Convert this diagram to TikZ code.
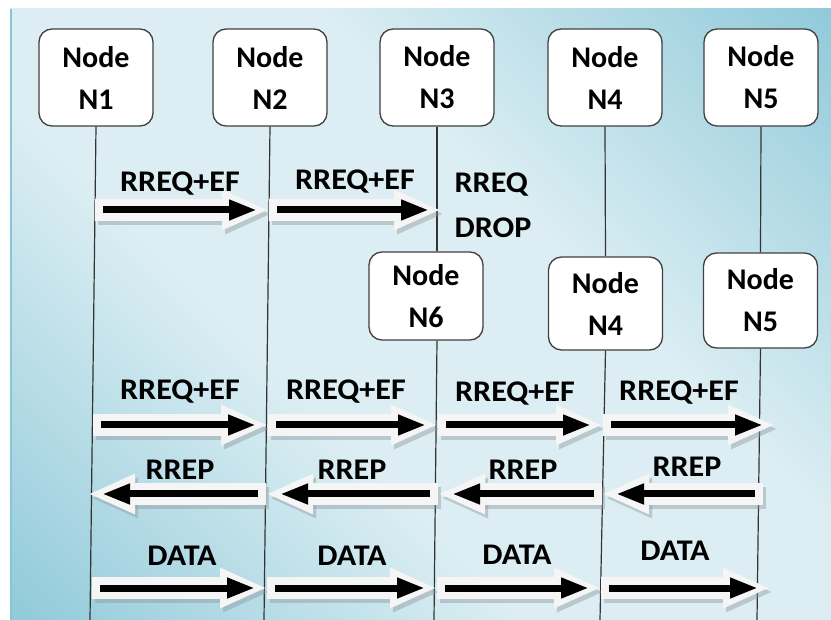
\documentclass[tikz,border=0pt]{standalone}
\usepackage{fontspec}
\setmainfont{Carlito}
\newfontfamily\lblfont[FakeStretch=1.07]{Carlito}
\usetikzlibrary{arrows.meta}

\definecolor{bgdark}{HTML}{8FC9D9}
\definecolor{bglight}{HTML}{DCEEF3}
\definecolor{bgedge}{HTML}{86C6D6}
\definecolor{arrwhite}{HTML}{F5F5F5}
\definecolor{arrshade}{HTML}{8E9A9F}

% diagonal panel gradient: dark corners, light band through the middle
\pgfdeclarehorizontalshading{panelbg}{100bp}{%
  color(0bp)=(bgdark); color(14bp)=(bgdark); color(40bp)=(bglight);
  color(60bp)=(bglight); color(86bp)=(bgdark); color(100bp)=(bgdark)}

% forward (left to right) block arrow: #1 tail, #2 tip
\newcommand\fwdmsg[2]{%
  \draw[shadowarr] ([shift={(3,4)}]#1) -- ([shift={(3,4)}]#2);
  \draw[whitearr] (#1) -- (#2);
  \draw[blackarr] ([xshift=8pt]#1) -- ([xshift=-12pt]#2);
}
% backward (right to left) block arrow: #1 tail, #2 tip
\newcommand\bckmsg[2]{%
  \draw[shadowarr] ([shift={(3,4)}]#1) -- ([shift={(3,4)}]#2);
  \draw[whitearr] (#1) -- (#2);
  \draw[blackarr] ([xshift=-8pt]#1) -- ([xshift=14pt]#2);
}

\begin{document}
\begin{tikzpicture}[x=1pt,y=-1pt,
  nodebox/.style={draw=black!75, line width=1.3pt, fill=white,
    rounded corners=13pt, minimum width=114pt, inner sep=0pt,
    align=center, font=\fontsize{30}{42}\selectfont\bfseries},
  life/.style={draw=black!80, line width=1.2pt},
  lbl/.style={font=\lblfont\fontsize{30}{45}\selectfont\bfseries, inner sep=0pt},
  whitearr/.style={draw=arrwhite, line width=22pt,
    -{Triangle[length=47pt,width=37pt]}},
  shadowarr/.style={draw=arrshade, opacity=0.45, line width=22pt,
    -{Triangle[length=47pt,width=37pt]}},
  blackarr/.style={draw=black, line width=7pt,
    -{Triangle[length=28pt,width=19pt]}}]

% background panel
\useasboundingbox (0,0) rectangle (831,620);
\fill[white] (0,0) rectangle (831,620);
\shade[shading=panelbg, shading angle=45] (10,9) rectangle (831,620);
\fill[bgedge] (10,9) rectangle (12,620);

% lifeline heads, first row
\node[nodebox, minimum height=97pt] (n1) at (96,77.5) {Node\\N1};
\node[nodebox, minimum height=97pt] (n2) at (270,77.5) {Node\\N2};
\node[nodebox, minimum height=97pt] (n3) at (437,77.5) {Node\\N3};
\node[nodebox, minimum height=97pt] (n4) at (605,77.5) {Node\\N4};
\node[nodebox, minimum height=97pt] (n5) at (761,77.5) {Node\\N5};

% lifeline heads, second row
\node[nodebox, minimum height=88pt] (n6) at (426,296) {Node\\N6};
\node[nodebox, minimum height=93pt] (n4b) at (605.5,303.5) {Node\\N4};
\node[nodebox, minimum height=95pt] (n5b) at (760.5,300.5) {Node\\N5};

% lifeline ends
\coordinate (b1) at (90,620);
\coordinate (b2) at (264,620);
\coordinate (b6) at (434,620);
\coordinate (b4) at (600,620);
\coordinate (b5) at (757,620);

% lifelines
\draw[life] (n1.south) -- (b1);
\draw[life] (n2.south) -- (b2);
\draw[life] (n3.south) -- (n3.south |- n6.north);
\draw[life] (n3.south |- n6.south) -- (b6);
\draw[life] (n4.south) -- (n4b.north);
\draw[life] (n4b.south) -- (b4);
\draw[life] (n5.south) -- (n5b.north);
\draw[life] (n5b.south) -- (b5);

% message positions
\coordinate (a1) at (95,210);
\coordinate (a2) at (269,210);
\coordinate (a3) at (441,210);

\coordinate (c1) at (93,425);
\coordinate (c2) at (268,425);
\coordinate (c3) at (438,425);
\coordinate (c4) at (603,425);
\coordinate (c5) at (775,425);

\coordinate (d1) at (88,494);
\coordinate (d2) at (266,494);
\coordinate (d3) at (438,494);
\coordinate (d4) at (602,494);
\coordinate (d5) at (763,494);

\coordinate (e1) at (92,588);
\coordinate (e2) at (267,588);
\coordinate (e3) at (437,588);
\coordinate (e4) at (601,588);
\coordinate (e5) at (770,588);

% route request, first attempt
\fwdmsg{a1}{a2}
\fwdmsg{a2}{a3}
\node[lbl] (l11) at (180,184) {RREQ+EF};
\node[lbl] (l12) at (355,182) {RREQ+EF};
\node[lbl, align=left] (drop) at (493,205) {RREQ\\DROP};

% route request, second attempt
\fwdmsg{c1}{c2}
\fwdmsg{c2}{c3}
\fwdmsg{c3}{c4}
\fwdmsg{c4}{c5}
\node[lbl] (l21) at (180,392) {RREQ+EF};
\node[lbl] (l22) at (346,392) {RREQ+EF};
\node[lbl] (l23) at (515,394) {RREQ+EF};
\node[lbl] (l24) at (679,393) {RREQ+EF};

% route reply
\bckmsg{d2}{d1}
\bckmsg{d3}{d2}
\bckmsg{d4}{d3}
\bckmsg{d5}{d4}
\node[lbl] (l31) at (180,470) {RREP};
\node[lbl] (l32) at (352,470) {RREP};
\node[lbl] (l33) at (523,470) {RREP};
\node[lbl] (l34) at (687,467) {RREP};

% data transfer
\fwdmsg{e1}{e2}
\fwdmsg{e2}{e3}
\fwdmsg{e3}{e4}
\fwdmsg{e4}{e5}
\node[lbl] (l41) at (182,556) {DATA};
\node[lbl] (l42) at (352,556) {DATA};
\node[lbl] (l43) at (517,555) {DATA};
\node[lbl] (l44) at (675,551) {DATA};
\end{tikzpicture}
\end{document}
